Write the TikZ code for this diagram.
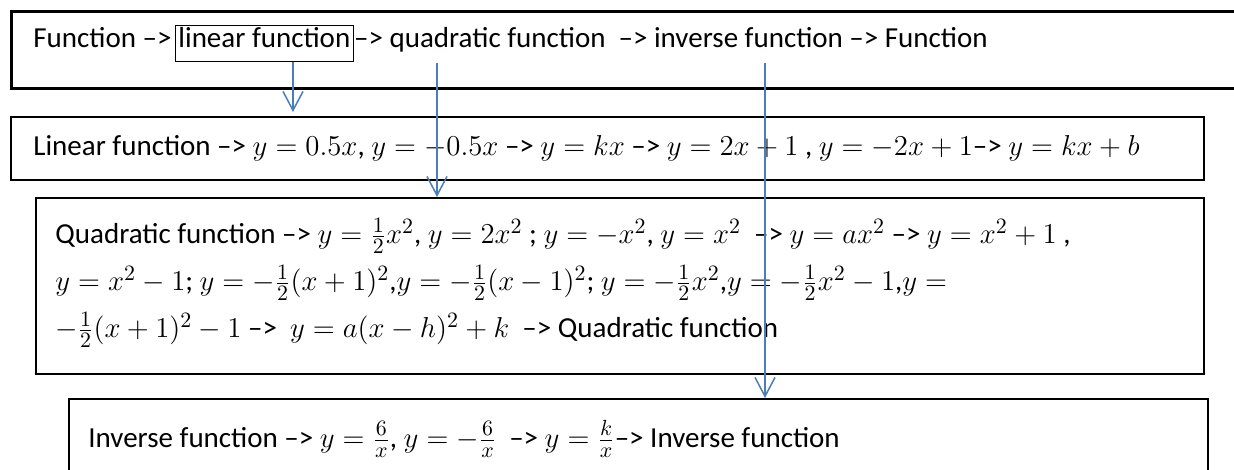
\documentclass[tikz,border=0pt]{standalone}
\usepackage{fontspec}
\setmainfont{Carlito}
\DeclareMathSizes{14.5}{15}{10.5}{7.5}
\usetikzlibrary{arrows.meta, positioning, calc}
\definecolor{cflow}{HTML}{4A7EBB}
\tikzset{
  every picture/.style={font=\fontsize{14.5}{23.5}\selectfont},
  panel/.style={draw, rectangle, line width=1pt, anchor=north west, inner sep=0pt},
  wordbox/.style={draw, line width=0.5pt, inner xsep=1.5pt, inner ysep=0pt, text height=11pt, text depth=7pt},
  txt/.style={inner sep=0pt, align=left},
  flow/.style={-{Straight Barb[length=9.5pt, width=10pt]}, draw=cflow, line width=0.75pt},
}

\begin{document}
\begin{tikzpicture}[x=0.5pt, y=-0.5pt]
  \useasboundingbox (0,0) rectangle (1234,470);
  \node[panel, line width=1.35pt, minimum width=620pt, minimum height=38.5pt] (top) at (10,10) {};
  \node[txt, anchor=base west] (t0) at (33,48) {Function –>};
  \node[wordbox, anchor=base west] (tlin) at ($(t0.base east)+(3,0)$) {linear function};
  \node[txt, anchor=base west] (t1) at (tlin.base east) {–> quadratic function \ –> inverse function –> Function};
  \coordinate (lsrc) at (293,62);
  \coordinate (qsrc) at (437,63);
  \coordinate (isrc) at (765,63);

  \node[panel, minimum width=596.5pt, minimum height=31.5pt] (lin) at (10,116) {};
  \node[txt, right=11.5pt of lin.west] (lintxt) {Linear function –> $y = 0.5x$, $y = -0.5x$ –> $y = kx$ –> $y = 2x + 1$ , $y = -2x + 1$–> $y = kx + b$};

  \node[panel, minimum width=584pt, minimum height=88pt] (quad) at (35,197) {};
  \node[txt, right=10pt of quad.west, yshift=1.5pt] (quadtxt) {Quadratic function –> $y = \frac{1}{2}x^2$, $y = 2x^2$ ; $y = -x^2$, $y = x^2$ \ –> $y = ax^2$ –> $y = x^2 + 1$ ,\\
    $y = x^2 - 1$; $y = -\frac{1}{2}(x+1)^2$,$y = -\frac{1}{2}(x-1)^2$; $y = -\frac{1}{2}x^2$,$y = -\frac{1}{2}x^2 - 1$,$y =$\\
    $-\frac{1}{2}(x+1)^2 - 1$ –> \ $y = a(x-h)^2 + k$ \ –> Quadratic function};

  \node[panel, minimum width=569.5pt, minimum height=40pt] (inv) at (68,398) {};
  \node[txt, right=10pt of inv.west] (invtxt) {Inverse function –> $y = \frac{6}{x}$, $y = -\frac{6}{x}$ \ –> $y = \frac{k}{x}$–> Inverse function};

  \draw[flow, shorten >=2pt] (lsrc) -- (lsrc |- lin.north);
  \draw[flow] (qsrc) -- (qsrc |- quad.north);
  \draw[flow] (isrc) -- (isrc |- inv.north);
\end{tikzpicture}
\end{document}
